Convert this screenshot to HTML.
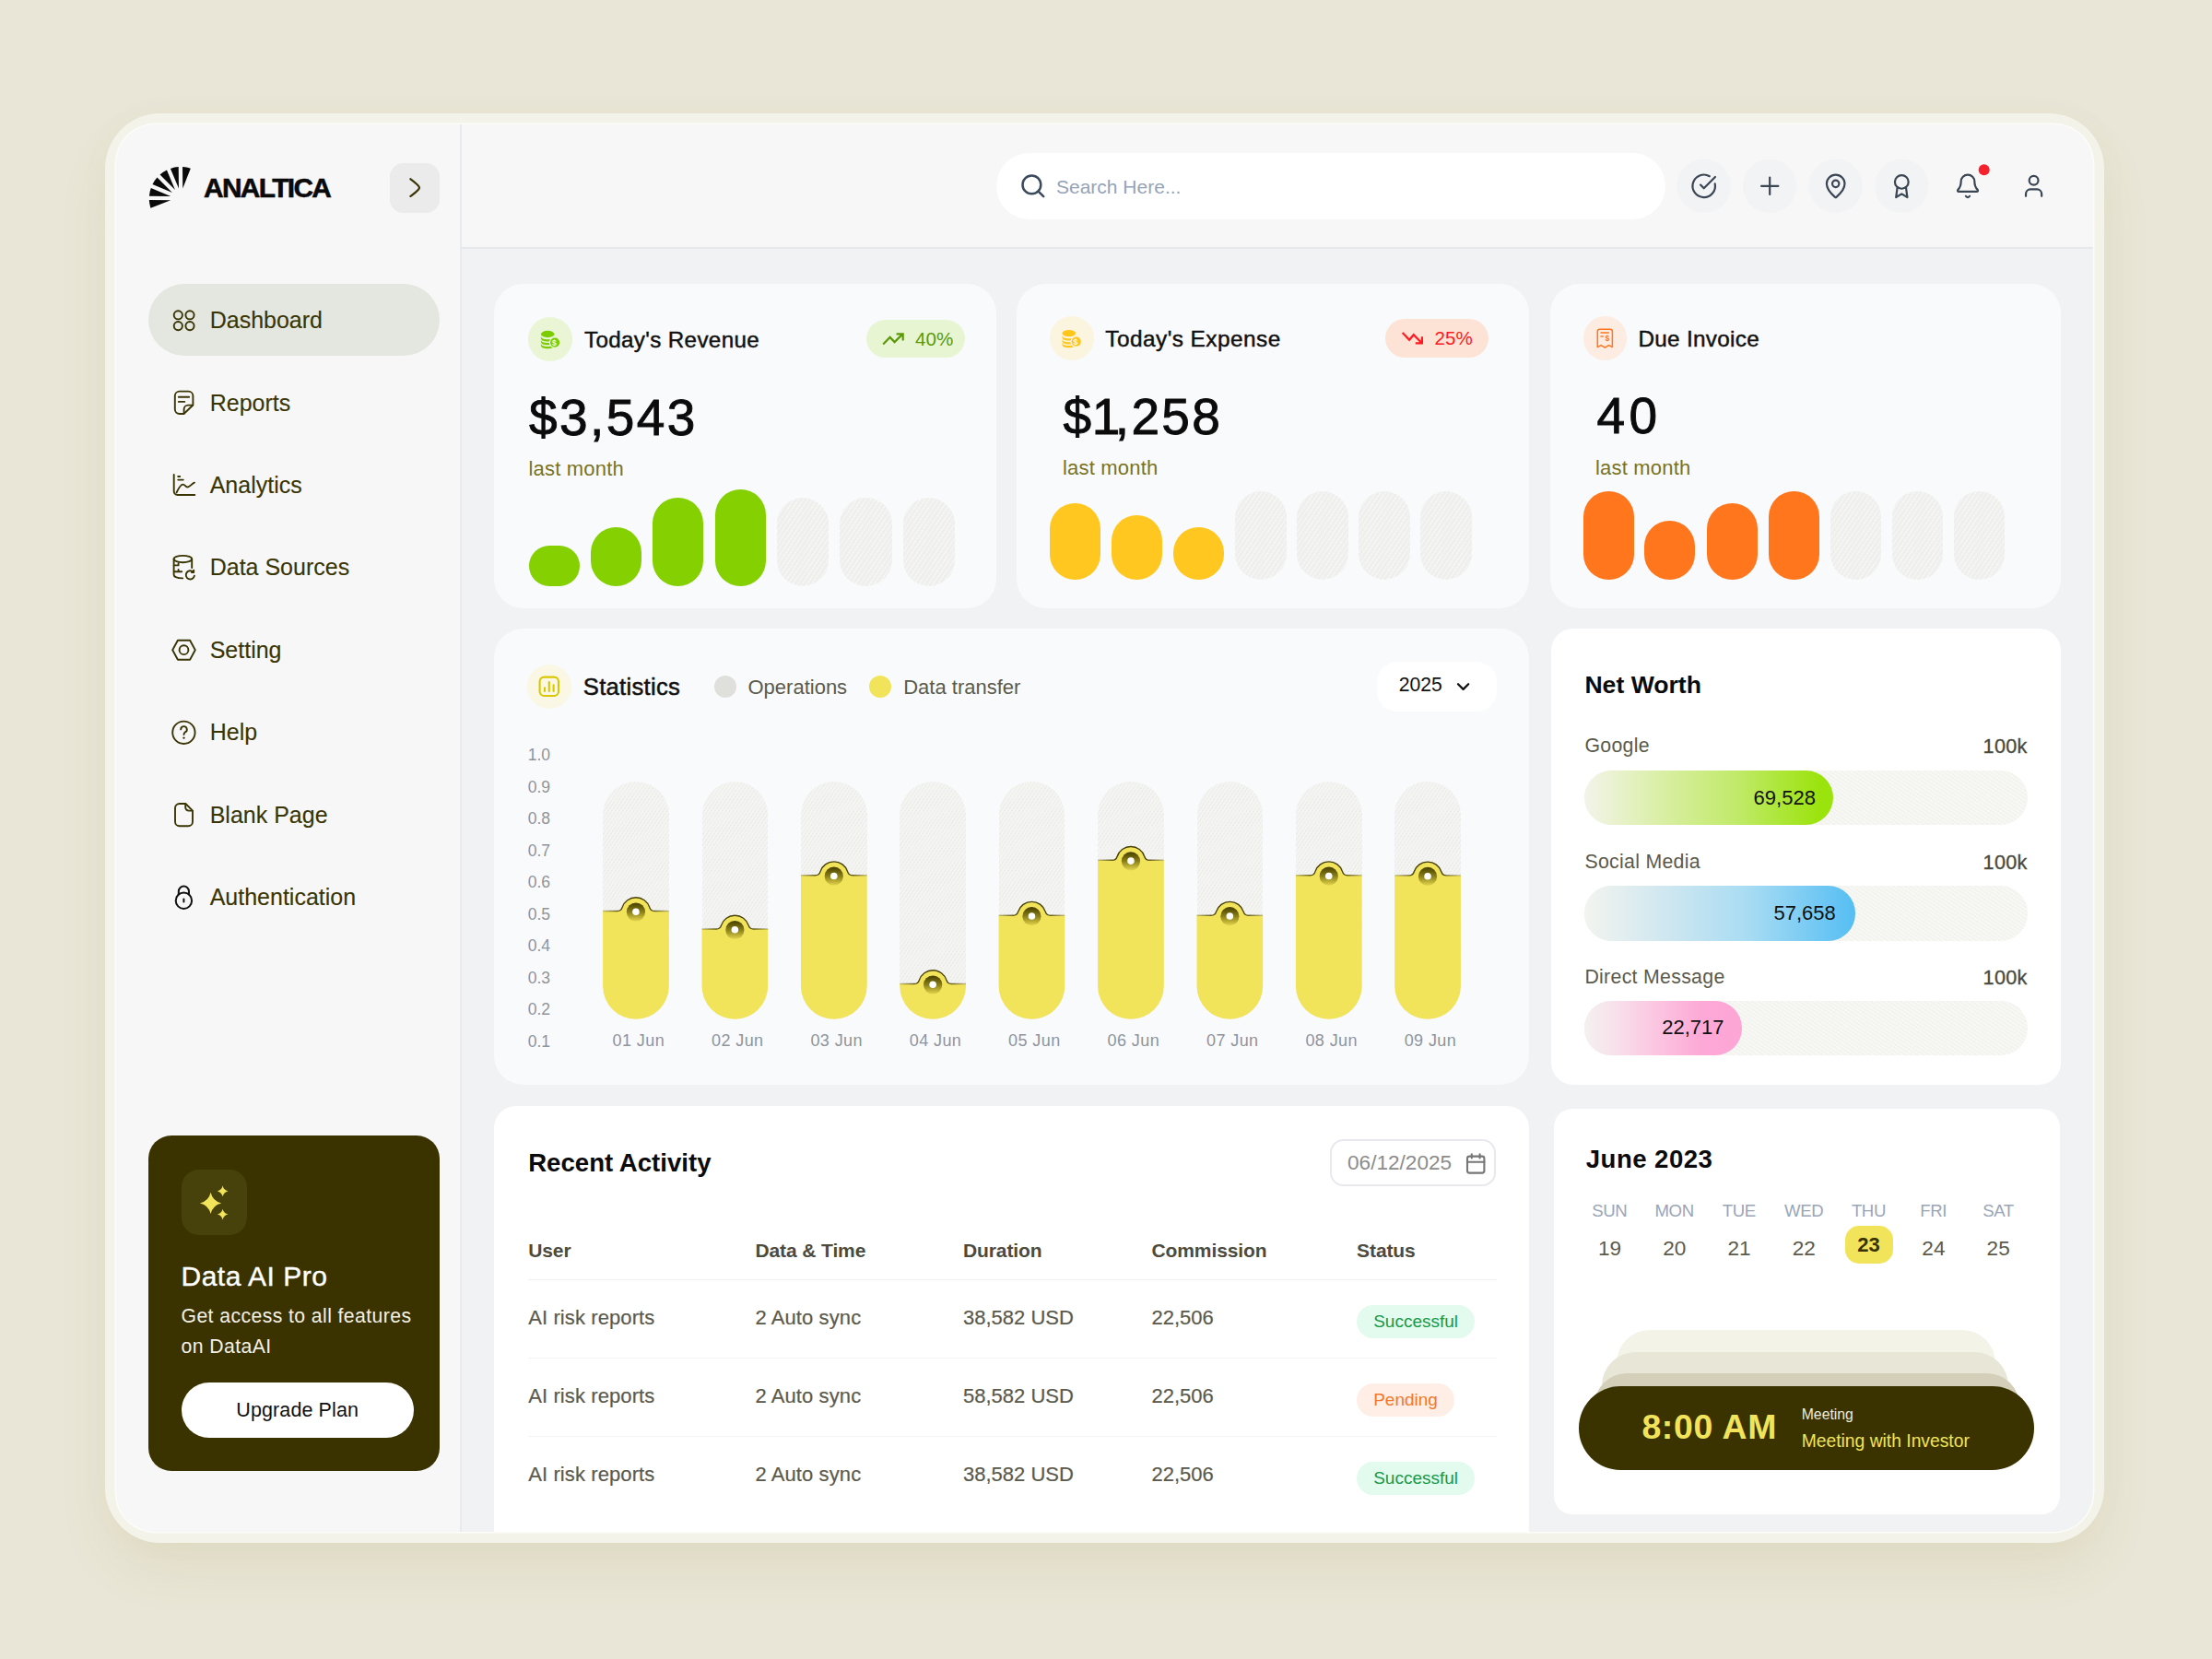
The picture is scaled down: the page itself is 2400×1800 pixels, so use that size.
<!DOCTYPE html>
<html lang="en"><head><meta charset="utf-8"><title>Analtica Dashboard</title>
<style>
*{box-sizing:border-box;margin:0;padding:0}
html,body{width:2400px;height:1800px;overflow:hidden}
body{font-family:"Liberation Sans",sans-serif;background:#e9e6d7;position:relative}
#outer{position:absolute;left:114px;top:123px;width:2169px;height:1551px;border-radius:60px;background:#f4f3ea;box-shadow:0 30px 60px -8px rgba(150,128,40,.12),0 0 40px rgba(150,128,40,.025)}
#inner{position:absolute;left:126px;top:135px;width:2145px;height:1526.5px;border-radius:43px;background:#f7f7f7;overflow:hidden;box-shadow:0 0 0 1.5px rgba(255,255,255,.7)}
#pg{position:absolute;left:-126px;top:-135px;width:2400px;height:1800px}
</style></head><body>
<div id="outer"></div>
<div id="inner"><div id="pg">

<div style="position:absolute;left:501.00px;top:270.00px;width:1770.00px;height:1392.00px;background:#f1f2f4;"></div>
<div style="position:absolute;left:499.00px;top:135.00px;width:2.00px;height:1527.00px;background:#e9eaed;"></div>
<div style="position:absolute;left:501.00px;top:268.00px;width:1770.00px;height:2.00px;background:#e6e8eb;"></div>
<svg style="position:absolute;left:0;top:0" width="400" height="300" viewBox="0 0 400 300"><path d="M198.25 204.39L206.84 182.69A34.4 34.4 0 0 0 198.03 181.05ZM193.95 204.43L193.73 181.09A34.4 34.4 0 0 0 184.96 182.89ZM189.98 206.08L180.99 184.55A34.4 34.4 0 0 0 173.54 189.52ZM186.93 209.11L170.49 192.55A34.4 34.4 0 0 0 165.46 199.96ZM185.24 213.07L163.77 203.92A34.4 34.4 0 0 0 161.91 212.68ZM185.17 217.37L161.84 216.98A34.4 34.4 0 0 0 163.41 225.80Z" fill="#0a0a0a"/></svg>
<div style="position:absolute;top:190.05px;font-size:29px;line-height:29px;color:#0a0a0a;white-space:nowrap;font-weight:bold;-webkit-text-stroke:0.55px #0a0a0a;letter-spacing:-1.6px;left:220.80px;transform:scaleX(1.03);transform-origin:0 50%;">ANALTICA</div>
<div style="position:absolute;left:423.10px;top:176.60px;width:53.70px;height:54.00px;background:#ebebeb;border-radius:14.5px;"></div>
<svg style="position:absolute;left:423.00px;top:177.00px;overflow:visible;" width="54" height="54" viewBox="0 0 54 54"><path d="M22.4 17.3C26 20 32 24.4 32 26.7C32 29 26 33.2 22.4 35.9" fill="none" stroke="#3a3505" stroke-width="2.3" stroke-linecap="round" stroke-linejoin="round"/></svg>
<div style="position:absolute;left:161.00px;top:308.00px;width:316.00px;height:78.00px;background:#e4e7e0;border-radius:39px;"></div>
<div style="position:absolute;top:335.14px;font-size:25px;line-height:25px;color:#3a3505;white-space:nowrap;-webkit-text-stroke:0.12px #3a3505;left:227.70px;">Dashboard</div>
<div style="position:absolute;top:424.54px;font-size:25px;line-height:25px;color:#3a3505;white-space:nowrap;-webkit-text-stroke:0.12px #3a3505;left:227.70px;">Reports</div>
<div style="position:absolute;top:513.94px;font-size:25px;line-height:25px;color:#3a3505;white-space:nowrap;-webkit-text-stroke:0.12px #3a3505;left:227.70px;">Analytics</div>
<div style="position:absolute;top:603.34px;font-size:25px;line-height:25px;color:#3a3505;white-space:nowrap;-webkit-text-stroke:0.12px #3a3505;left:227.70px;">Data Sources</div>
<div style="position:absolute;top:692.74px;font-size:25px;line-height:25px;color:#3a3505;white-space:nowrap;-webkit-text-stroke:0.12px #3a3505;left:227.70px;">Setting</div>
<div style="position:absolute;top:782.14px;font-size:25px;line-height:25px;color:#3a3505;white-space:nowrap;-webkit-text-stroke:0.12px #3a3505;left:227.70px;">Help</div>
<div style="position:absolute;top:871.54px;font-size:25px;line-height:25px;color:#3a3505;white-space:nowrap;-webkit-text-stroke:0.12px #3a3505;left:227.70px;">Blank Page</div>
<div style="position:absolute;top:960.94px;font-size:25px;line-height:25px;color:#3a3505;white-space:nowrap;-webkit-text-stroke:0.12px #3a3505;left:227.70px;">Authentication</div>
<svg style="position:absolute;left:0;top:0" width="520" height="1100" viewBox="0 0 520 1100"><circle cx="193.3" cy="341.8" r="4.6" fill="none" stroke="#3a3505" stroke-width="1.9" stroke-linecap="round" stroke-linejoin="round"/><circle cx="206.0" cy="341.8" r="4.6" fill="none" stroke="#3a3505" stroke-width="1.9" stroke-linecap="round" stroke-linejoin="round"/><circle cx="193.3" cy="353.6" r="4.6" fill="none" stroke="#3a3505" stroke-width="1.9" stroke-linecap="round" stroke-linejoin="round"/><circle cx="206.0" cy="353.6" r="4.6" fill="none" stroke="#3a3505" stroke-width="1.9" stroke-linecap="round" stroke-linejoin="round"/><path d="M199.5 449 H194.8 A5 5 0 0 1 189.8 444 V429.6 A5 5 0 0 1 194.8 424.6 H204.4 A5 5 0 0 1 209.4 429.6 V439.5 L199.5 449 Z" fill="none" stroke="#3a3505" stroke-width="1.9" stroke-linecap="round" stroke-linejoin="round"/><path d="M199.6 448.6 V444 A4.5 4.5 0 0 1 204.1 439.6 H209.2" fill="none" stroke="#3a3505" stroke-width="1.9" stroke-linecap="round" stroke-linejoin="round"/><path d="M193.8 430.8 H205.2 M193.8 435.9 H200.3" fill="none" stroke="#3a3505" stroke-width="1.9" stroke-linecap="round" stroke-linejoin="round"/><path d="M188.7 515 V533 A4 4 0 0 0 192.7 537 H211.3" fill="none" stroke="#3a3505" stroke-width="1.9" stroke-linecap="round" stroke-linejoin="round"/><path d="M193.2 517 H195.2 M193.2 520.6 H198.8" fill="none" stroke="#3a3505" stroke-width="1.9" stroke-linecap="round" stroke-linejoin="round"/><path d="M191.6 534.3 C193.5 530.5 195.5 525.8 198.4 525.6 C201 525.5 201.3 529 204 528.4 C206.8 527.8 208.4 524.4 211 523.6" fill="none" stroke="#3a3505" stroke-width="1.9" stroke-linecap="round" stroke-linejoin="round"/><ellipse cx="198.4" cy="606.6" rx="9.8" ry="3.7" fill="none" stroke="#3a3505" stroke-width="1.9" stroke-linecap="round" stroke-linejoin="round"/><path d="M188.6 606.6 V623.6 C188.6 625.8 192.6 627.4 198.2 627.4 M208.2 606.6 V616" fill="none" stroke="#3a3505" stroke-width="1.9" stroke-linecap="round" stroke-linejoin="round"/><path d="M188.8 613.4 H193.5 M188.8 620.3 H197.2 M193.6 611.3 V613.4 M193.6 618 V620.3" fill="none" stroke="#3a3505" stroke-width="1.9" stroke-linecap="round" stroke-linejoin="round"/><path d="M209.6 620.6 A4.6 4.6 0 1 0 210.9 624.6 M210.2 618.6 V621 H207.9" fill="none" stroke="#3a3505" stroke-width="1.9" stroke-linecap="round" stroke-linejoin="round"/><path d="M187.2 705.2 L192.9 694.7 L206.1 694.7 L211.8 705.2 L206.1 715.7 L192.9 715.7 Z" fill="none" stroke="#3a3505" stroke-width="1.9" stroke-linecap="round" stroke-linejoin="round"/><circle cx="199.5" cy="705.2" r="4.9" fill="none" stroke="#3a3505" stroke-width="1.9" stroke-linecap="round" stroke-linejoin="round"/><circle cx="199.4" cy="794.8" r="12.2" fill="none" stroke="#3a3505" stroke-width="1.9" stroke-linecap="round" stroke-linejoin="round"/><path d="M196.2 791.4 A3.3 3.3 0 1 1 200.9 794.4 C199.8 795 199.5 795.8 199.5 797" fill="none" stroke="#3a3505" stroke-width="1.9" stroke-linecap="round" stroke-linejoin="round"/><circle cx="199.5" cy="800.6" r="1.2" fill="#3a3505"/><path d="M194.8 872 H201.4 L209 879.6 V891.4 A4.8 4.8 0 0 1 204.2 896.2 H194.8 A4.8 4.8 0 0 1 190 891.4 V876.8 A4.8 4.8 0 0 1 194.8 872 Z" fill="none" stroke="#3a3505" stroke-width="1.9" stroke-linecap="round" stroke-linejoin="round"/><path d="M201.2 872.2 V876 A3.6 3.6 0 0 0 204.8 879.6 H208.8" fill="none" stroke="#3a3505" stroke-width="1.9" stroke-linecap="round" stroke-linejoin="round"/><circle cx="199.4" cy="977.2" r="8.7" fill="none" stroke="#111" stroke-width="2" stroke-linecap="round" stroke-linejoin="round"/><path d="M193.8 970.6 V967.2 A5.6 5.6 0 0 1 205 967.2 V970.6" fill="none" stroke="#111" stroke-width="2" stroke-linecap="round" stroke-linejoin="round"/><path d="M199.4 975.4 V978.6" fill="none" stroke="#111" stroke-width="2" stroke-linecap="round" stroke-linejoin="round"/></svg>
<div style="position:absolute;left:160.50px;top:1232.40px;width:316.50px;height:363.90px;background:#3a3300;border-radius:25px;"></div>
<div style="position:absolute;left:196.50px;top:1269.30px;width:71.20px;height:71.20px;background:#47420c;border-radius:19px;"></div>
<svg style="position:absolute;left:0;top:0" width="520" height="1700" viewBox="0 0 520 1700"><path d="M228.6 1293.8000000000002 Q230.7576 1303.2424 240.2 1305.4 Q230.7576 1307.5576 228.6 1317.0 Q226.4424 1307.5576 217.0 1305.4 Q226.4424 1303.2424 228.6 1293.8000000000002ZM241.6 1286.6000000000001 Q242.6788 1291.3212 247.4 1292.4 Q242.6788 1293.4788 241.6 1298.2 Q240.5212 1293.4788 235.79999999999998 1292.4 Q240.5212 1291.3212 241.6 1286.6000000000001ZM241.6 1311.8 Q242.6788 1316.5212 247.4 1317.6 Q242.6788 1318.6788 241.6 1323.3999999999999 Q240.5212 1318.6788 235.79999999999998 1317.6 Q240.5212 1316.5212 241.6 1311.8Z" fill="#f2e45a"/></svg>
<div style="position:absolute;top:1370.31px;font-size:30px;line-height:30px;color:#fff;white-space:nowrap;-webkit-text-stroke:0.4px #fff;letter-spacing:0.5px;left:196.50px;">Data AI Pro</div>
<div style="position:absolute;top:1416.55px;font-size:21.2px;line-height:21.2px;color:#f3f1e6;white-space:nowrap;letter-spacing:0.42px;left:196.50px;">Get access to all features</div>
<div style="position:absolute;top:1449.85px;font-size:21.2px;line-height:21.2px;color:#f3f1e6;white-space:nowrap;letter-spacing:0.42px;left:196.50px;">on DataAI</div>
<div style="position:absolute;left:196.50px;top:1500.40px;width:252.10px;height:59.60px;background:#fff;border-radius:30px;"></div>
<div style="position:absolute;top:1520.40px;font-size:21.5px;line-height:21.5px;color:#111;white-space:nowrap;letter-spacing:0.1px;left:22.70px;width:600px;text-align:center;">Upgrade Plan</div>
<div style="position:absolute;left:1080.50px;top:166.30px;width:726.50px;height:71.70px;background:#fff;border-radius:36px;"></div>
<svg style="position:absolute;left:0.00px;top:0.00px;overflow:visible;" width="2400" height="300" viewBox="0 0 2400 300"><circle cx="1119.4" cy="200.4" r="9.9" fill="none" stroke="#3b4a5c" stroke-width="2.5"/><path d="M1126.6 207.6L1132.2 213.1" stroke="#3b4a5c" stroke-width="2.5" stroke-linecap="round"/></svg>
<div style="position:absolute;top:191.52px;font-size:21px;line-height:21px;color:#94a3b8;white-space:nowrap;left:1146.00px;">Search Here...</div>
<svg style="position:absolute;left:0.00px;top:0.00px;overflow:visible;" width="2400" height="300" viewBox="0 0 2400 300"><circle cx="1848.7" cy="201.8" r="29.3" fill="#f2f3f5"/><circle cx="1920.2" cy="201.8" r="29.3" fill="#f2f3f5"/><circle cx="1991.7" cy="201.8" r="29.3" fill="#f2f3f5"/><circle cx="2063.3" cy="201.8" r="29.3" fill="#f2f3f5"/><g transform="translate(1834.00 187.10) scale(1.225)" fill="none" stroke="#3b4654" stroke-width="1.80" stroke-linecap="round" stroke-linejoin="round"><path d="M21.8 10A10 10 0 1 1 17 3.34"/><path d="M9 11l3 3L22 4"/></g><g transform="translate(1905.50 187.10) scale(1.225)" fill="none" stroke="#3b4654" stroke-width="1.80" stroke-linecap="round" stroke-linejoin="round"><path d="M4.5 12h15M12 4.5v15"/></g><g transform="translate(1977.00 187.10) scale(1.225)" fill="none" stroke="#3b4654" stroke-width="1.80" stroke-linecap="round" stroke-linejoin="round"><path d="M20 10c0 5-5.5 10.2-7.4 11.8a1 1 0 0 1-1.2 0C9.5 20.2 4 15 4 10a8 8 0 0 1 16 0z"/><circle cx="12" cy="10" r="3"/></g><g transform="translate(2048.60 187.10) scale(1.225)" fill="none" stroke="#3b4654" stroke-width="1.80" stroke-linecap="round" stroke-linejoin="round"><circle cx="12" cy="8.4" r="6"/><path d="M8.2 13.2 L7 22 l5-3 5 3 -1.2-8.8"/></g><g transform="translate(2120.30 187.10) scale(1.225)" fill="none" stroke="#3b4654" stroke-width="1.80" stroke-linecap="round" stroke-linejoin="round"><path d="M10.3 21a1.94 1.94 0 0 0 3.4 0"/><path d="M3.26 15.33A1 1 0 0 0 4 17h16a1 1 0 0 0 .74-1.67C19.41 13.96 18 12.5 18 8A6 6 0 0 0 6 8c0 4.5-1.41 5.96-2.74 7.33z"/></g><g transform="translate(2191.90 187.10) scale(1.225)" fill="none" stroke="#3b4654" stroke-width="1.80" stroke-linecap="round" stroke-linejoin="round"><path d="M19 21v-2a4 4 0 0 0-4-4H9a4 4 0 0 0-4 4v2"/><circle cx="12" cy="7" r="4"/></g><circle cx="2152.7" cy="184.3" r="6" fill="#f5222d"/></svg>
<div style="position:absolute;left:536.30px;top:307.60px;width:544.70px;height:352.70px;background:#f9fafc;border-radius:32px;"></div>
<div style="position:absolute;left:1103.00px;top:307.60px;width:556.00px;height:352.70px;background:#f9fafc;border-radius:32px;"></div>
<div style="position:absolute;left:1681.70px;top:307.60px;width:554.70px;height:352.70px;background:#f9fafc;border-radius:32px;"></div>
<div style="position:absolute;left:573.20px;top:343.90px;width:48.00px;height:48.00px;background:#e9f5d5;border-radius:50%;"></div>
<svg style="position:absolute;left:0.00px;top:0.00px;overflow:visible;" width="2400" height="700" viewBox="0 0 2400 700"><g transform="translate(0.20 -0.10)" fill="#7ccd00"><ellipse cx="594" cy="362.6" rx="7.3" ry="3.7"/><path d="M586.7 364.79999999999995 C586.7 367.2 590 368.29999999999995 594 368.29999999999995 C598 368.29999999999995 601.3 367.2 601.3 364.79999999999995 V367.0 C601.3 369.4 598 370.5 594 370.5 C590 370.5 586.7 369.4 586.7 367.0Z"/><path d="M586.7 368.7 C586.7 371.1 590 372.2 594 372.2 C598 372.2 601.3 371.1 601.3 368.7 V370.90000000000003 C601.3 373.3 598 374.40000000000003 594 374.40000000000003 C590 374.40000000000003 586.7 373.3 586.7 370.90000000000003Z"/><path d="M586.7 372.59999999999997 C586.7 375.0 590 376.09999999999997 594 376.09999999999997 C598 376.09999999999997 601.3 375.0 601.3 372.59999999999997 V374.8 C601.3 377.2 598 378.3 594 378.3 C590 378.3 586.7 377.2 586.7 374.8Z"/><circle cx="601.9" cy="371.7" r="6.3" fill="#e9f5d5"/><circle cx="601.9" cy="371.7" r="5.1"/></g></svg>
<div style="position:absolute;top:367.82px;font-size:8.6px;line-height:8.6px;color:#f6fde8;white-space:nowrap;font-weight:bold;left:598.90px;">$</div>
<div style="position:absolute;top:356.71px;font-size:24.2px;line-height:24.2px;color:#111;white-space:nowrap;-webkit-text-stroke:0.45px #111;letter-spacing:0.35px;left:634.00px;">Today's Revenue</div>
<div style="position:absolute;left:939.50px;top:346.90px;width:107.30px;height:41.60px;background:#e8f5d3;border-radius:21px;"></div>
<svg style="position:absolute;left:0.00px;top:0.00px;overflow:visible;" width="2400" height="700" viewBox="0 0 2400 700"><path d="M958.2 373.5L965.6 365.9L970.6 371.1L979.2 362.6M972.6 362.3H979.7V369.4" fill="none" stroke="#5a9a08" stroke-width="2.2"/></svg>
<div style="position:absolute;top:358.16px;font-size:20.6px;line-height:20.6px;color:#5a9a08;white-space:nowrap;left:993.00px;">40%</div>
<div style="position:absolute;top:426.44px;font-size:55px;line-height:55px;color:#0b0b0b;white-space:nowrap;-webkit-text-stroke:0.9px #0b0b0b;letter-spacing:2.4px;left:574.00px;">$3,543</div>
<div style="position:absolute;top:498.48px;font-size:22px;line-height:22px;color:#7a7320;white-space:nowrap;letter-spacing:0.2px;left:573.50px;">last month</div>
<div style="position:absolute;left:574.00px;top:592.40px;width:55.40px;height:43.40px;background:#84d000;border-radius:27.7px;"></div>
<div style="position:absolute;left:640.80px;top:571.50px;width:55.40px;height:64.30px;background:#84d000;border-radius:27.7px;"></div>
<div style="position:absolute;left:707.80px;top:540.00px;width:55.40px;height:95.80px;background:#84d000;border-radius:27.7px;"></div>
<div style="position:absolute;left:775.50px;top:530.90px;width:55.40px;height:104.90px;background:#84d000;border-radius:27.7px;"></div>
<div style="position:absolute;left:843.00px;top:540.00px;width:56.40px;height:95.80px;background:repeating-linear-gradient(124deg,#efefed 0,#efefed 3.2px,#f7f7f5 3.2px,#f7f7f5 4.2px);border-radius:28.2px;"></div>
<div style="position:absolute;left:911.20px;top:540.00px;width:56.40px;height:95.80px;background:repeating-linear-gradient(124deg,#efefed 0,#efefed 3.2px,#f7f7f5 3.2px,#f7f7f5 4.2px);border-radius:28.2px;"></div>
<div style="position:absolute;left:980.00px;top:540.00px;width:56.40px;height:95.80px;background:repeating-linear-gradient(124deg,#efefed 0,#efefed 3.2px,#f7f7f5 3.2px,#f7f7f5 4.2px);border-radius:28.2px;"></div>
<div style="position:absolute;left:1138.80px;top:343.00px;width:48.00px;height:48.00px;background:#fbf5e0;border-radius:50%;"></div>
<svg style="position:absolute;left:0.00px;top:0.00px;overflow:visible;" width="2400" height="700" viewBox="0 0 2400 700"><g transform="translate(565.80 -1.00)" fill="#ffc61a"><ellipse cx="594" cy="362.6" rx="7.3" ry="3.7"/><path d="M586.7 364.79999999999995 C586.7 367.2 590 368.29999999999995 594 368.29999999999995 C598 368.29999999999995 601.3 367.2 601.3 364.79999999999995 V367.0 C601.3 369.4 598 370.5 594 370.5 C590 370.5 586.7 369.4 586.7 367.0Z"/><path d="M586.7 368.7 C586.7 371.1 590 372.2 594 372.2 C598 372.2 601.3 371.1 601.3 368.7 V370.90000000000003 C601.3 373.3 598 374.40000000000003 594 374.40000000000003 C590 374.40000000000003 586.7 373.3 586.7 370.90000000000003Z"/><path d="M586.7 372.59999999999997 C586.7 375.0 590 376.09999999999997 594 376.09999999999997 C598 376.09999999999997 601.3 375.0 601.3 372.59999999999997 V374.8 C601.3 377.2 598 378.3 594 378.3 C590 378.3 586.7 377.2 586.7 374.8Z"/><circle cx="601.9" cy="371.7" r="6.3" fill="#fbf5e0"/><circle cx="601.9" cy="371.7" r="5.1"/></g></svg>
<div style="position:absolute;top:366.92px;font-size:8.6px;line-height:8.6px;color:#fffbea;white-space:nowrap;font-weight:bold;left:1164.50px;">$</div>
<div style="position:absolute;top:355.75px;font-size:24.4px;line-height:24.4px;color:#111;white-space:nowrap;-webkit-text-stroke:0.45px #111;letter-spacing:0.45px;left:1199.30px;">Today's Expense</div>
<div style="position:absolute;left:1502.70px;top:345.90px;width:112.20px;height:41.70px;background:#fce3d6;border-radius:21px;"></div>
<svg style="position:absolute;left:0.00px;top:0.00px;overflow:visible;" width="2400" height="700" viewBox="0 0 2400 700"><path d="M1521.7 360.9L1529.1 368.8L1533.8 363.2L1542.4 371.9M1535.8 372.3H1542.9V365.3" fill="none" stroke="#ff1a22" stroke-width="2.2"/></svg>
<div style="position:absolute;top:357.26px;font-size:20.6px;line-height:20.6px;color:#ff1a22;white-space:nowrap;left:1556.50px;">25%</div>
<div style="position:absolute;top:424.74px;font-size:55px;line-height:55px;color:#0b0b0b;white-space:nowrap;-webkit-text-stroke:0.9px #0b0b0b;letter-spacing:2.4px;left:1153.50px;">$<span style="margin-left:-1.8px;letter-spacing:-5.6px">1</span>,258</div>
<div style="position:absolute;top:497.18px;font-size:22px;line-height:22px;color:#7a7320;white-space:nowrap;letter-spacing:0.2px;left:1153.00px;">last month</div>
<div style="position:absolute;left:1138.80px;top:545.50px;width:55.40px;height:83.50px;background:#ffc720;border-radius:27.7px;"></div>
<div style="position:absolute;left:1205.90px;top:559.00px;width:55.40px;height:70.00px;background:#ffc720;border-radius:27.7px;"></div>
<div style="position:absolute;left:1273.10px;top:572.00px;width:55.40px;height:57.00px;background:#ffc720;border-radius:27.7px;"></div>
<div style="position:absolute;left:1339.60px;top:533.30px;width:56.20px;height:95.70px;background:repeating-linear-gradient(124deg,#efefed 0,#efefed 3.2px,#f7f7f5 3.2px,#f7f7f5 4.2px);border-radius:28.1px;"></div>
<div style="position:absolute;left:1406.80px;top:533.30px;width:56.20px;height:95.70px;background:repeating-linear-gradient(124deg,#efefed 0,#efefed 3.2px,#f7f7f5 3.2px,#f7f7f5 4.2px);border-radius:28.1px;"></div>
<div style="position:absolute;left:1473.90px;top:533.30px;width:56.20px;height:95.70px;background:repeating-linear-gradient(124deg,#efefed 0,#efefed 3.2px,#f7f7f5 3.2px,#f7f7f5 4.2px);border-radius:28.1px;"></div>
<div style="position:absolute;left:1541.00px;top:533.30px;width:56.20px;height:95.70px;background:repeating-linear-gradient(124deg,#efefed 0,#efefed 3.2px,#f7f7f5 3.2px,#f7f7f5 4.2px);border-radius:28.1px;"></div>
<div style="position:absolute;left:1717.50px;top:342.80px;width:47.80px;height:47.80px;background:#fdece1;border-radius:50%;"></div>
<svg style="position:absolute;left:0.00px;top:0.00px;overflow:visible;" width="2400" height="700" viewBox="0 0 2400 700"><path d="M1733.3 376.6 V359.6 A2.4 2.4 0 0 1 1735.7 357.2 H1747 A2.4 2.4 0 0 1 1749.4 359.6 V376.6 L1745.6 374.6 L1741.35 377.2 L1737.1 374.6 Z" fill="none" stroke="#ff761d" stroke-width="1.5" stroke-linecap="round" stroke-linejoin="round"/><path d="M1737 361 H1745.4 M1737 365 H1739.2" fill="none" stroke="#ff761d" stroke-width="1.5" stroke-linecap="round" stroke-linejoin="round"/></svg>
<div style="position:absolute;top:362.92px;font-size:8.6px;line-height:8.6px;color:#ff761d;white-space:nowrap;font-weight:bold;left:1741.50px;">$</div>
<div style="position:absolute;top:355.53px;font-size:24.3px;line-height:24.3px;color:#111;white-space:nowrap;-webkit-text-stroke:0.45px #111;letter-spacing:0.3px;left:1777.40px;">Due Invoice</div>
<div style="position:absolute;top:423.94px;font-size:55px;line-height:55px;color:#0b0b0b;white-space:nowrap;-webkit-text-stroke:0.9px #0b0b0b;letter-spacing:4.5px;left:1732.40px;">40</div>
<div style="position:absolute;top:497.18px;font-size:22px;line-height:22px;color:#7a7320;white-space:nowrap;letter-spacing:0.2px;left:1731.00px;">last month</div>
<div style="position:absolute;left:1717.50px;top:533.30px;width:55.20px;height:95.70px;background:#ff761d;border-radius:27.6px;"></div>
<div style="position:absolute;left:1784.30px;top:564.80px;width:55.20px;height:64.20px;background:#ff761d;border-radius:27.6px;"></div>
<div style="position:absolute;left:1851.50px;top:545.50px;width:55.20px;height:83.50px;background:#ff761d;border-radius:27.6px;"></div>
<div style="position:absolute;left:1918.80px;top:533.30px;width:55.20px;height:95.70px;background:#ff761d;border-radius:27.6px;"></div>
<div style="position:absolute;left:1985.60px;top:533.30px;width:55.60px;height:95.70px;background:repeating-linear-gradient(124deg,#efefed 0,#efefed 3.2px,#f7f7f5 3.2px,#f7f7f5 4.2px);border-radius:27.8px;"></div>
<div style="position:absolute;left:2052.80px;top:533.30px;width:55.60px;height:95.70px;background:repeating-linear-gradient(124deg,#efefed 0,#efefed 3.2px,#f7f7f5 3.2px,#f7f7f5 4.2px);border-radius:27.8px;"></div>
<div style="position:absolute;left:2119.90px;top:533.30px;width:55.60px;height:95.70px;background:repeating-linear-gradient(124deg,#efefed 0,#efefed 3.2px,#f7f7f5 3.2px,#f7f7f5 4.2px);border-radius:27.8px;"></div>
<div style="position:absolute;left:536.30px;top:682.00px;width:1122.70px;height:495.20px;background:#f9fafc;border-radius:32px;"></div>
<div style="position:absolute;left:571.70px;top:721.00px;width:48.00px;height:48.00px;background:#faf8e4;border-radius:50%;"></div>
<svg style="position:absolute;left:0.00px;top:0.00px;overflow:visible;" width="2400" height="1200" viewBox="0 0 2400 1200"><rect x="585.6" y="734.6" width="20.4" height="20.4" rx="4.8" fill="none" stroke="#d9c800" stroke-width="2.1" stroke-linecap="round" stroke-linejoin="round"/><path d="M591 750V746.2M595.8 750V740M600.6 750V743.4" fill="none" stroke="#d9c800" stroke-width="2.1" stroke-linecap="round" stroke-linejoin="round"/></svg>
<div style="position:absolute;top:733.33px;font-size:25.6px;line-height:25.6px;color:#111;white-space:nowrap;-webkit-text-stroke:0.5px #111;letter-spacing:0.3px;left:632.80px;">Statistics</div>
<div style="position:absolute;left:774.60px;top:732.90px;width:24.00px;height:24.00px;background:#dfe0db;border-radius:50%;"></div>
<div style="position:absolute;top:734.78px;font-size:22px;line-height:22px;color:#5b5a4c;white-space:nowrap;left:811.50px;">Operations</div>
<div style="position:absolute;left:943.30px;top:732.90px;width:24.00px;height:24.00px;background:#f2e45a;border-radius:50%;"></div>
<div style="position:absolute;top:734.78px;font-size:22px;line-height:22px;color:#5b5a4c;white-space:nowrap;left:980.20px;">Data transfer</div>
<div style="position:absolute;left:1493.60px;top:717.70px;width:130.30px;height:54.00px;background:#fff;border-radius:22px;"></div>
<div style="position:absolute;top:731.95px;font-size:21.2px;line-height:21.2px;color:#111;white-space:nowrap;left:1517.70px;">2025</div>
<svg style="position:absolute;left:0.00px;top:0.00px;overflow:visible;" width="2400" height="1200" viewBox="0 0 2400 1200"><path d="M1582 742.2L1587.6 747.9L1593.2 742.2" fill="none" stroke="#111" stroke-width="2.3" stroke-linecap="round" stroke-linejoin="round"/></svg>
<div style="position:absolute;top:811.20px;font-size:17.6px;line-height:17.6px;color:#8f949c;white-space:nowrap;left:572.70px;">1.0</div>
<div style="position:absolute;top:845.69px;font-size:17.6px;line-height:17.6px;color:#8f949c;white-space:nowrap;left:572.70px;">0.9</div>
<div style="position:absolute;top:880.18px;font-size:17.6px;line-height:17.6px;color:#8f949c;white-space:nowrap;left:572.70px;">0.8</div>
<div style="position:absolute;top:914.67px;font-size:17.6px;line-height:17.6px;color:#8f949c;white-space:nowrap;left:572.70px;">0.7</div>
<div style="position:absolute;top:949.16px;font-size:17.6px;line-height:17.6px;color:#8f949c;white-space:nowrap;left:572.70px;">0.6</div>
<div style="position:absolute;top:983.65px;font-size:17.6px;line-height:17.6px;color:#8f949c;white-space:nowrap;left:572.70px;">0.5</div>
<div style="position:absolute;top:1018.14px;font-size:17.6px;line-height:17.6px;color:#8f949c;white-space:nowrap;left:572.70px;">0.4</div>
<div style="position:absolute;top:1052.63px;font-size:17.6px;line-height:17.6px;color:#8f949c;white-space:nowrap;left:572.70px;">0.3</div>
<div style="position:absolute;top:1087.12px;font-size:17.6px;line-height:17.6px;color:#8f949c;white-space:nowrap;left:572.70px;">0.2</div>
<div style="position:absolute;top:1121.61px;font-size:17.6px;line-height:17.6px;color:#8f949c;white-space:nowrap;left:572.70px;">0.1</div>
<div style="position:absolute;left:654.10px;top:847.70px;width:71.70px;height:258.00px;background:repeating-linear-gradient(124deg,#f4f4f2 0,#f4f4f2 2.3px,#ecece8 2.3px,#ecece8 3.3px);border-radius:35.9px;"></div>
<div style="position:absolute;left:761.50px;top:847.70px;width:71.70px;height:258.00px;background:repeating-linear-gradient(124deg,#f4f4f2 0,#f4f4f2 2.3px,#ecece8 2.3px,#ecece8 3.3px);border-radius:35.9px;"></div>
<div style="position:absolute;left:868.95px;top:847.70px;width:71.70px;height:258.00px;background:repeating-linear-gradient(124deg,#f4f4f2 0,#f4f4f2 2.3px,#ecece8 2.3px,#ecece8 3.3px);border-radius:35.9px;"></div>
<div style="position:absolute;left:976.30px;top:847.70px;width:71.70px;height:258.00px;background:repeating-linear-gradient(124deg,#f4f4f2 0,#f4f4f2 2.3px,#ecece8 2.3px,#ecece8 3.3px);border-radius:35.9px;"></div>
<div style="position:absolute;left:1083.60px;top:847.70px;width:71.70px;height:258.00px;background:repeating-linear-gradient(124deg,#f4f4f2 0,#f4f4f2 2.3px,#ecece8 2.3px,#ecece8 3.3px);border-radius:35.9px;"></div>
<div style="position:absolute;left:1191.10px;top:847.70px;width:71.70px;height:258.00px;background:repeating-linear-gradient(124deg,#f4f4f2 0,#f4f4f2 2.3px,#ecece8 2.3px,#ecece8 3.3px);border-radius:35.9px;"></div>
<div style="position:absolute;left:1298.50px;top:847.70px;width:71.70px;height:258.00px;background:repeating-linear-gradient(124deg,#f4f4f2 0,#f4f4f2 2.3px,#ecece8 2.3px,#ecece8 3.3px);border-radius:35.9px;"></div>
<div style="position:absolute;left:1405.90px;top:847.70px;width:71.70px;height:258.00px;background:repeating-linear-gradient(124deg,#f4f4f2 0,#f4f4f2 2.3px,#ecece8 2.3px,#ecece8 3.3px);border-radius:35.9px;"></div>
<div style="position:absolute;left:1513.20px;top:847.70px;width:71.70px;height:258.00px;background:repeating-linear-gradient(124deg,#f4f4f2 0,#f4f4f2 2.3px,#ecece8 2.3px,#ecece8 3.3px);border-radius:35.9px;"></div>
<svg style="position:absolute;left:0.00px;top:0.00px;overflow:visible;" width="2400" height="1200" viewBox="0 0 2400 1200"><defs>
<linearGradient id="kg" x1="0" y1="0" x2="0" y2="1"><stop offset="0" stop-color="#453e00"/><stop offset="0.5" stop-color="#8b8018"/><stop offset="1" stop-color="#e4d64c"/></linearGradient>
<linearGradient id="sg" x1="0" y1="0" x2="1" y2="0"><stop offset="0" stop-color="#6a6010" stop-opacity="0.35"/><stop offset="0.28" stop-color="#3e3700" stop-opacity="0.95"/><stop offset="0.72" stop-color="#3e3700" stop-opacity="0.95"/><stop offset="1" stop-color="#6a6010" stop-opacity="0.35"/></linearGradient>
</defs><path d="M654.10 988.50 H669.81 A5.5 5.5 0 0 0 675.06 984.64 A15.6 15.6 0 0 1 704.84 984.64 A5.5 5.5 0 0 0 710.09 988.50 H725.80 V1069.85 A35.85 35.85 0 0 1 654.10 1069.85 Z" fill="#f2e45a"/><path d="M654.10 988.50 H669.81 A5.5 5.5 0 0 0 675.06 984.64 A15.6 15.6 0 0 1 704.84 984.64 A5.5 5.5 0 0 0 710.09 988.50 H725.80" fill="none" stroke="url(#sg)" stroke-width="1.4"/><circle cx="689.95" cy="989.50" r="10.1" fill="url(#kg)"/><circle cx="689.95" cy="989.30" r="3.8" fill="#fff"/><path d="M761.50 1008.00 H777.21 A5.5 5.5 0 0 0 782.46 1004.14 A15.6 15.6 0 0 1 812.24 1004.14 A5.5 5.5 0 0 0 817.49 1008.00 H833.20 V1069.85 A35.85 35.85 0 0 1 761.50 1069.85 Z" fill="#f2e45a"/><path d="M761.50 1008.00 H777.21 A5.5 5.5 0 0 0 782.46 1004.14 A15.6 15.6 0 0 1 812.24 1004.14 A5.5 5.5 0 0 0 817.49 1008.00 H833.20" fill="none" stroke="url(#sg)" stroke-width="1.4"/><circle cx="797.35" cy="1009.00" r="10.1" fill="url(#kg)"/><circle cx="797.35" cy="1008.80" r="3.8" fill="#fff"/><path d="M868.95 949.70 H884.66 A5.5 5.5 0 0 0 889.91 945.84 A15.6 15.6 0 0 1 919.69 945.84 A5.5 5.5 0 0 0 924.94 949.70 H940.65 V1069.85 A35.85 35.85 0 0 1 868.95 1069.85 Z" fill="#f2e45a"/><path d="M868.95 949.70 H884.66 A5.5 5.5 0 0 0 889.91 945.84 A15.6 15.6 0 0 1 919.69 945.84 A5.5 5.5 0 0 0 924.94 949.70 H940.65" fill="none" stroke="url(#sg)" stroke-width="1.4"/><circle cx="904.80" cy="950.70" r="10.1" fill="url(#kg)"/><circle cx="904.80" cy="950.50" r="3.8" fill="#fff"/><path d="M976.30 1067.50 H992.01 A5.5 5.5 0 0 0 997.26 1063.64 A15.6 15.6 0 0 1 1027.04 1063.64 A5.5 5.5 0 0 0 1032.29 1067.50 H1048.00 V1069.85 A35.85 35.85 0 0 1 976.30 1069.85 Z" fill="#f2e45a"/><path d="M976.30 1067.50 H992.01 A5.5 5.5 0 0 0 997.26 1063.64 A15.6 15.6 0 0 1 1027.04 1063.64 A5.5 5.5 0 0 0 1032.29 1067.50 H1048.00" fill="none" stroke="url(#sg)" stroke-width="1.4"/><circle cx="1012.15" cy="1068.50" r="10.1" fill="url(#kg)"/><circle cx="1012.15" cy="1068.30" r="3.8" fill="#fff"/><path d="M1083.60 993.20 H1099.31 A5.5 5.5 0 0 0 1104.56 989.34 A15.6 15.6 0 0 1 1134.34 989.34 A5.5 5.5 0 0 0 1139.59 993.20 H1155.30 V1069.85 A35.85 35.85 0 0 1 1083.60 1069.85 Z" fill="#f2e45a"/><path d="M1083.60 993.20 H1099.31 A5.5 5.5 0 0 0 1104.56 989.34 A15.6 15.6 0 0 1 1134.34 989.34 A5.5 5.5 0 0 0 1139.59 993.20 H1155.30" fill="none" stroke="url(#sg)" stroke-width="1.4"/><circle cx="1119.45" cy="994.20" r="10.1" fill="url(#kg)"/><circle cx="1119.45" cy="994.00" r="3.8" fill="#fff"/><path d="M1191.10 933.30 H1206.81 A5.5 5.5 0 0 0 1212.06 929.44 A15.6 15.6 0 0 1 1241.84 929.44 A5.5 5.5 0 0 0 1247.09 933.30 H1262.80 V1069.85 A35.85 35.85 0 0 1 1191.10 1069.85 Z" fill="#f2e45a"/><path d="M1191.10 933.30 H1206.81 A5.5 5.5 0 0 0 1212.06 929.44 A15.6 15.6 0 0 1 1241.84 929.44 A5.5 5.5 0 0 0 1247.09 933.30 H1262.80" fill="none" stroke="url(#sg)" stroke-width="1.4"/><circle cx="1226.95" cy="934.30" r="10.1" fill="url(#kg)"/><circle cx="1226.95" cy="934.10" r="3.8" fill="#fff"/><path d="M1298.50 993.20 H1314.21 A5.5 5.5 0 0 0 1319.46 989.34 A15.6 15.6 0 0 1 1349.24 989.34 A5.5 5.5 0 0 0 1354.49 993.20 H1370.20 V1069.85 A35.85 35.85 0 0 1 1298.50 1069.85 Z" fill="#f2e45a"/><path d="M1298.50 993.20 H1314.21 A5.5 5.5 0 0 0 1319.46 989.34 A15.6 15.6 0 0 1 1349.24 989.34 A5.5 5.5 0 0 0 1354.49 993.20 H1370.20" fill="none" stroke="url(#sg)" stroke-width="1.4"/><circle cx="1334.35" cy="994.20" r="10.1" fill="url(#kg)"/><circle cx="1334.35" cy="994.00" r="3.8" fill="#fff"/><path d="M1405.90 949.70 H1421.61 A5.5 5.5 0 0 0 1426.86 945.84 A15.6 15.6 0 0 1 1456.64 945.84 A5.5 5.5 0 0 0 1461.89 949.70 H1477.60 V1069.85 A35.85 35.85 0 0 1 1405.90 1069.85 Z" fill="#f2e45a"/><path d="M1405.90 949.70 H1421.61 A5.5 5.5 0 0 0 1426.86 945.84 A15.6 15.6 0 0 1 1456.64 945.84 A5.5 5.5 0 0 0 1461.89 949.70 H1477.60" fill="none" stroke="url(#sg)" stroke-width="1.4"/><circle cx="1441.75" cy="950.70" r="10.1" fill="url(#kg)"/><circle cx="1441.75" cy="950.50" r="3.8" fill="#fff"/><path d="M1513.20 949.90 H1528.91 A5.5 5.5 0 0 0 1534.16 946.04 A15.6 15.6 0 0 1 1563.94 946.04 A5.5 5.5 0 0 0 1569.19 949.90 H1584.90 V1069.85 A35.85 35.85 0 0 1 1513.20 1069.85 Z" fill="#f2e45a"/><path d="M1513.20 949.90 H1528.91 A5.5 5.5 0 0 0 1534.16 946.04 A15.6 15.6 0 0 1 1563.94 946.04 A5.5 5.5 0 0 0 1569.19 949.90 H1584.90" fill="none" stroke="url(#sg)" stroke-width="1.4"/><circle cx="1549.05" cy="950.90" r="10.1" fill="url(#kg)"/><circle cx="1549.05" cy="950.70" r="3.8" fill="#fff"/></svg>
<div style="position:absolute;top:1120.26px;font-size:18px;line-height:18px;color:#8f949c;white-space:nowrap;letter-spacing:0.4px;left:392.85px;width:600px;text-align:center;">01 Jun</div>
<div style="position:absolute;top:1120.26px;font-size:18px;line-height:18px;color:#8f949c;white-space:nowrap;letter-spacing:0.4px;left:500.25px;width:600px;text-align:center;">02 Jun</div>
<div style="position:absolute;top:1120.26px;font-size:18px;line-height:18px;color:#8f949c;white-space:nowrap;letter-spacing:0.4px;left:607.70px;width:600px;text-align:center;">03 Jun</div>
<div style="position:absolute;top:1120.26px;font-size:18px;line-height:18px;color:#8f949c;white-space:nowrap;letter-spacing:0.4px;left:715.05px;width:600px;text-align:center;">04 Jun</div>
<div style="position:absolute;top:1120.26px;font-size:18px;line-height:18px;color:#8f949c;white-space:nowrap;letter-spacing:0.4px;left:822.35px;width:600px;text-align:center;">05 Jun</div>
<div style="position:absolute;top:1120.26px;font-size:18px;line-height:18px;color:#8f949c;white-space:nowrap;letter-spacing:0.4px;left:929.85px;width:600px;text-align:center;">06 Jun</div>
<div style="position:absolute;top:1120.26px;font-size:18px;line-height:18px;color:#8f949c;white-space:nowrap;letter-spacing:0.4px;left:1037.25px;width:600px;text-align:center;">07 Jun</div>
<div style="position:absolute;top:1120.26px;font-size:18px;line-height:18px;color:#8f949c;white-space:nowrap;letter-spacing:0.4px;left:1144.65px;width:600px;text-align:center;">08 Jun</div>
<div style="position:absolute;top:1120.26px;font-size:18px;line-height:18px;color:#8f949c;white-space:nowrap;letter-spacing:0.4px;left:1251.95px;width:600px;text-align:center;">09 Jun</div>
<div style="position:absolute;left:1683.00px;top:682.40px;width:553.10px;height:494.80px;background:#fff;border-radius:24px;"></div>
<div style="position:absolute;top:729.58px;font-size:26.6px;line-height:26.6px;color:#0b0b0b;white-space:nowrap;font-weight:bold;left:1719.40px;">Net Worth</div>
<div style="position:absolute;top:799.47px;font-size:21.3px;line-height:21.3px;color:#5b5a4c;white-space:nowrap;letter-spacing:0.3px;left:1719.40px;">Google</div>
<div style="position:absolute;top:799.22px;font-size:21.6px;line-height:21.6px;color:#4a4a3c;white-space:nowrap;-webkit-text-stroke:0.35px #4a4a3c;letter-spacing:0.3px;right:200.40px;">100k</div>
<div style="position:absolute;left:1719.00px;top:835.80px;width:481.10px;height:59.50px;background:repeating-linear-gradient(33deg,#f3f3ef 0,#f3f3ef 2.4px,#f9f9f6 2.4px,#f9f9f6 3.5px);border-radius:29.6px;"></div>
<div style="position:absolute;left:1719.00px;top:835.80px;width:269.50px;height:59.50px;background:linear-gradient(90deg,#f3f4ea 0%,#d6ee9c 35%,#c2ea6c 60%,#9be30c 95%);border-radius:29.6px;"></div>
<div style="position:absolute;top:855.18px;font-size:22px;line-height:22px;color:#111;white-space:nowrap;right:430.10px;">69,528</div>
<div style="position:absolute;top:924.87px;font-size:21.3px;line-height:21.3px;color:#5b5a4c;white-space:nowrap;letter-spacing:0.3px;left:1719.40px;">Social Media</div>
<div style="position:absolute;top:924.62px;font-size:21.6px;line-height:21.6px;color:#4a4a3c;white-space:nowrap;-webkit-text-stroke:0.35px #4a4a3c;letter-spacing:0.3px;right:200.40px;">100k</div>
<div style="position:absolute;left:1719.00px;top:961.20px;width:481.10px;height:59.60px;background:repeating-linear-gradient(33deg,#f3f3ef 0,#f3f3ef 2.4px,#f9f9f6 2.4px,#f9f9f6 3.5px);border-radius:29.6px;"></div>
<div style="position:absolute;left:1719.00px;top:961.20px;width:293.70px;height:59.60px;background:linear-gradient(90deg,#f3f4ef 0%,#cfe7f0 30%,#a9dcf3 60%,#55bef3 100%);border-radius:29.6px;"></div>
<div style="position:absolute;top:979.98px;font-size:22px;line-height:22px;color:#111;white-space:nowrap;right:408.20px;">57,658</div>
<div style="position:absolute;top:1050.07px;font-size:21.3px;line-height:21.3px;color:#5b5a4c;white-space:nowrap;letter-spacing:0.3px;left:1719.40px;">Direct Message</div>
<div style="position:absolute;top:1049.82px;font-size:21.6px;line-height:21.6px;color:#4a4a3c;white-space:nowrap;-webkit-text-stroke:0.35px #4a4a3c;letter-spacing:0.3px;right:200.40px;">100k</div>
<div style="position:absolute;left:1719.00px;top:1086.30px;width:481.10px;height:58.50px;background:repeating-linear-gradient(33deg,#f3f3ef 0,#f3f3ef 2.4px,#f9f9f6 2.4px,#f9f9f6 3.5px);border-radius:29.1px;"></div>
<div style="position:absolute;left:1719.00px;top:1086.30px;width:171.40px;height:58.50px;background:linear-gradient(90deg,#f4f1f0 0%,#f7e2eb 18%,#fbc6e1 45%,#fda8d6 75%,#fda6d6 100%);border-radius:29.1px;"></div>
<div style="position:absolute;top:1103.58px;font-size:22px;line-height:22px;color:#111;white-space:nowrap;right:529.50px;">22,717</div>
<div style="position:absolute;left:536.30px;top:1200.40px;width:1122.70px;height:499.60px;background:#fff;border-radius:24px;"></div>
<div style="position:absolute;top:1248.14px;font-size:27.6px;line-height:27.6px;color:#0b0b0b;white-space:nowrap;font-weight:bold;left:573.20px;">Recent Activity</div>
<div style="position:absolute;left:1443.20px;top:1236.30px;width:179.90px;height:50.50px;border:2px solid #e8e8ef;border-radius:14.5px;background:#fff;"></div>
<div style="position:absolute;top:1250.87px;font-size:22.6px;line-height:22.6px;color:#8c8c8c;white-space:nowrap;left:1462.00px;">06/12/2025</div>
<svg style="position:absolute;left:0.00px;top:0.00px;overflow:visible;" width="2400" height="1800" viewBox="0 0 2400 1800"><rect x="1592" y="1254.6" width="18.4" height="18" rx="2.4" fill="none" stroke="#767676" stroke-width="2.1" stroke-linecap="round" stroke-linejoin="round"/><path d="M1592 1260.8H1610.4M1596.8 1252.4V1256.4M1605.6 1252.4V1256.4" fill="none" stroke="#767676" stroke-width="2.1" stroke-linecap="round" stroke-linejoin="round"/></svg>
<div style="position:absolute;top:1346.22px;font-size:21px;line-height:21px;color:#4c4b3d;white-space:nowrap;font-weight:bold;letter-spacing:-0.1px;left:573.20px;">User</div>
<div style="position:absolute;top:1346.22px;font-size:21px;line-height:21px;color:#4c4b3d;white-space:nowrap;font-weight:bold;letter-spacing:-0.1px;left:819.40px;">Data &amp; Time</div>
<div style="position:absolute;top:1346.22px;font-size:21px;line-height:21px;color:#4c4b3d;white-space:nowrap;font-weight:bold;letter-spacing:-0.1px;left:1045.00px;">Duration</div>
<div style="position:absolute;top:1346.22px;font-size:21px;line-height:21px;color:#4c4b3d;white-space:nowrap;font-weight:bold;letter-spacing:-0.1px;left:1249.50px;">Commission</div>
<div style="position:absolute;top:1346.22px;font-size:21px;line-height:21px;color:#4c4b3d;white-space:nowrap;font-weight:bold;letter-spacing:-0.1px;left:1472.10px;">Status</div>
<div style="position:absolute;left:573.00px;top:1387.60px;width:1050.50px;height:1.80px;background:#f1f1f3;"></div>
<div style="position:absolute;left:573.00px;top:1472.60px;width:1050.50px;height:1.60px;background:#f4f4f6;"></div>
<div style="position:absolute;left:573.00px;top:1557.60px;width:1050.50px;height:1.60px;background:#f4f4f6;"></div>
<div style="position:absolute;top:1419.08px;font-size:22px;line-height:22px;color:#5b5a4c;white-space:nowrap;-webkit-text-stroke:0.2px #5b5a4c;letter-spacing:0.1px;left:573.20px;">AI risk reports</div>
<div style="position:absolute;top:1419.08px;font-size:22px;line-height:22px;color:#5b5a4c;white-space:nowrap;-webkit-text-stroke:0.2px #5b5a4c;letter-spacing:0.1px;left:819.40px;">2 Auto sync</div>
<div style="position:absolute;top:1419.08px;font-size:22px;line-height:22px;color:#5b5a4c;white-space:nowrap;-webkit-text-stroke:0.2px #5b5a4c;left:1045.00px;">38,582 USD</div>
<div style="position:absolute;top:1419.08px;font-size:22px;line-height:22px;color:#5b5a4c;white-space:nowrap;-webkit-text-stroke:0.2px #5b5a4c;left:1249.50px;">22,506</div>
<div style="position:absolute;left:1472.00px;top:1416.00px;width:128.20px;height:35.60px;background:#e3fbee;border-radius:18px;"></div>
<div style="position:absolute;top:1424.12px;font-size:19px;line-height:19px;color:#15994a;white-space:nowrap;left:1490.20px;">Successful</div>
<div style="position:absolute;top:1504.08px;font-size:22px;line-height:22px;color:#5b5a4c;white-space:nowrap;-webkit-text-stroke:0.2px #5b5a4c;letter-spacing:0.1px;left:573.20px;">AI risk reports</div>
<div style="position:absolute;top:1504.08px;font-size:22px;line-height:22px;color:#5b5a4c;white-space:nowrap;-webkit-text-stroke:0.2px #5b5a4c;letter-spacing:0.1px;left:819.40px;">2 Auto sync</div>
<div style="position:absolute;top:1504.08px;font-size:22px;line-height:22px;color:#5b5a4c;white-space:nowrap;-webkit-text-stroke:0.2px #5b5a4c;left:1045.00px;">58,582 USD</div>
<div style="position:absolute;top:1504.08px;font-size:22px;line-height:22px;color:#5b5a4c;white-space:nowrap;-webkit-text-stroke:0.2px #5b5a4c;left:1249.50px;">22,506</div>
<div style="position:absolute;left:1472.00px;top:1501.00px;width:105.50px;height:35.60px;background:#ffeee5;border-radius:18px;"></div>
<div style="position:absolute;top:1509.12px;font-size:19px;line-height:19px;color:#f5772a;white-space:nowrap;left:1490.20px;">Pending</div>
<div style="position:absolute;top:1589.08px;font-size:22px;line-height:22px;color:#5b5a4c;white-space:nowrap;-webkit-text-stroke:0.2px #5b5a4c;letter-spacing:0.1px;left:573.20px;">AI risk reports</div>
<div style="position:absolute;top:1589.08px;font-size:22px;line-height:22px;color:#5b5a4c;white-space:nowrap;-webkit-text-stroke:0.2px #5b5a4c;letter-spacing:0.1px;left:819.40px;">2 Auto sync</div>
<div style="position:absolute;top:1589.08px;font-size:22px;line-height:22px;color:#5b5a4c;white-space:nowrap;-webkit-text-stroke:0.2px #5b5a4c;left:1045.00px;">38,582 USD</div>
<div style="position:absolute;top:1589.08px;font-size:22px;line-height:22px;color:#5b5a4c;white-space:nowrap;-webkit-text-stroke:0.2px #5b5a4c;left:1249.50px;">22,506</div>
<div style="position:absolute;left:1472.00px;top:1586.00px;width:128.20px;height:35.60px;background:#e3fbee;border-radius:18px;"></div>
<div style="position:absolute;top:1594.12px;font-size:19px;line-height:19px;color:#15994a;white-space:nowrap;left:1490.20px;">Successful</div>
<div style="position:absolute;left:1685.90px;top:1202.80px;width:549.30px;height:440.20px;background:#fff;border-radius:20px;"></div>
<div style="position:absolute;top:1244.04px;font-size:27.6px;line-height:27.6px;color:#0b0b0b;white-space:nowrap;font-weight:bold;letter-spacing:0.45px;left:1720.80px;">June 2023</div>
<div style="position:absolute;top:1305.06px;font-size:18.6px;line-height:18.6px;color:#9aa5b8;white-space:nowrap;letter-spacing:-0.4px;left:1446.30px;width:600px;text-align:center;">SUN</div>
<div style="position:absolute;top:1344.37px;font-size:22.6px;line-height:22.6px;color:#5b5a4c;white-space:nowrap;left:1446.50px;width:600px;text-align:center;">19</div>
<div style="position:absolute;top:1305.06px;font-size:18.6px;line-height:18.6px;color:#9aa5b8;white-space:nowrap;letter-spacing:-0.4px;left:1516.58px;width:600px;text-align:center;">MON</div>
<div style="position:absolute;top:1344.37px;font-size:22.6px;line-height:22.6px;color:#5b5a4c;white-space:nowrap;left:1516.78px;width:600px;text-align:center;">20</div>
<div style="position:absolute;top:1305.06px;font-size:18.6px;line-height:18.6px;color:#9aa5b8;white-space:nowrap;letter-spacing:-0.4px;left:1586.86px;width:600px;text-align:center;">TUE</div>
<div style="position:absolute;top:1344.37px;font-size:22.6px;line-height:22.6px;color:#5b5a4c;white-space:nowrap;left:1587.06px;width:600px;text-align:center;">21</div>
<div style="position:absolute;top:1305.06px;font-size:18.6px;line-height:18.6px;color:#9aa5b8;white-space:nowrap;letter-spacing:-0.4px;left:1657.14px;width:600px;text-align:center;">WED</div>
<div style="position:absolute;top:1344.37px;font-size:22.6px;line-height:22.6px;color:#5b5a4c;white-space:nowrap;left:1657.34px;width:600px;text-align:center;">22</div>
<div style="position:absolute;top:1305.06px;font-size:18.6px;line-height:18.6px;color:#9aa5b8;white-space:nowrap;letter-spacing:-0.4px;left:1727.42px;width:600px;text-align:center;">THU</div>
<div style="position:absolute;left:2001.70px;top:1329.60px;width:52.30px;height:41.30px;background:#f2e45a;border-radius:15px;"></div>
<div style="position:absolute;top:1340.08px;font-size:22px;line-height:22px;color:#3a3000;white-space:nowrap;font-weight:bold;left:1727.62px;width:600px;text-align:center;">23</div>
<div style="position:absolute;top:1305.06px;font-size:18.6px;line-height:18.6px;color:#9aa5b8;white-space:nowrap;letter-spacing:-0.4px;left:1797.70px;width:600px;text-align:center;">FRI</div>
<div style="position:absolute;top:1344.37px;font-size:22.6px;line-height:22.6px;color:#5b5a4c;white-space:nowrap;left:1797.90px;width:600px;text-align:center;">24</div>
<div style="position:absolute;top:1305.06px;font-size:18.6px;line-height:18.6px;color:#9aa5b8;white-space:nowrap;letter-spacing:-0.4px;left:1867.98px;width:600px;text-align:center;">SAT</div>
<div style="position:absolute;top:1344.37px;font-size:22.6px;line-height:22.6px;color:#5b5a4c;white-space:nowrap;left:1868.18px;width:600px;text-align:center;">25</div>
<div style="position:absolute;left:1754.00px;top:1442.70px;width:410.70px;height:87.30px;background:#f4f3e8;border-radius:36px;"></div>
<div style="position:absolute;left:1738.40px;top:1466.80px;width:440.40px;height:73.20px;background:#e8e6d6;border-radius:38px;"></div>
<div style="position:absolute;left:1729.60px;top:1490.30px;width:461.70px;height:69.70px;background:#d3cfb8;border-radius:40px;"></div>
<div style="position:absolute;left:1712.70px;top:1504.40px;width:494.30px;height:90.30px;background:#3a3300;border-radius:45.2px;"></div>
<div style="position:absolute;top:1529.84px;font-size:37.4px;line-height:37.4px;color:#f2e45a;white-space:nowrap;font-weight:bold;letter-spacing:0.65px;left:1781.40px;">8:00 AM</div>
<div style="position:absolute;top:1527.13px;font-size:15.8px;line-height:15.8px;color:#ecebdc;white-space:nowrap;left:1954.70px;">Meeting</div>
<div style="position:absolute;top:1553.96px;font-size:19.3px;line-height:19.3px;color:#f2e45a;white-space:nowrap;left:1954.70px;">Meeting with Investor</div>
</div></div></body></html>
